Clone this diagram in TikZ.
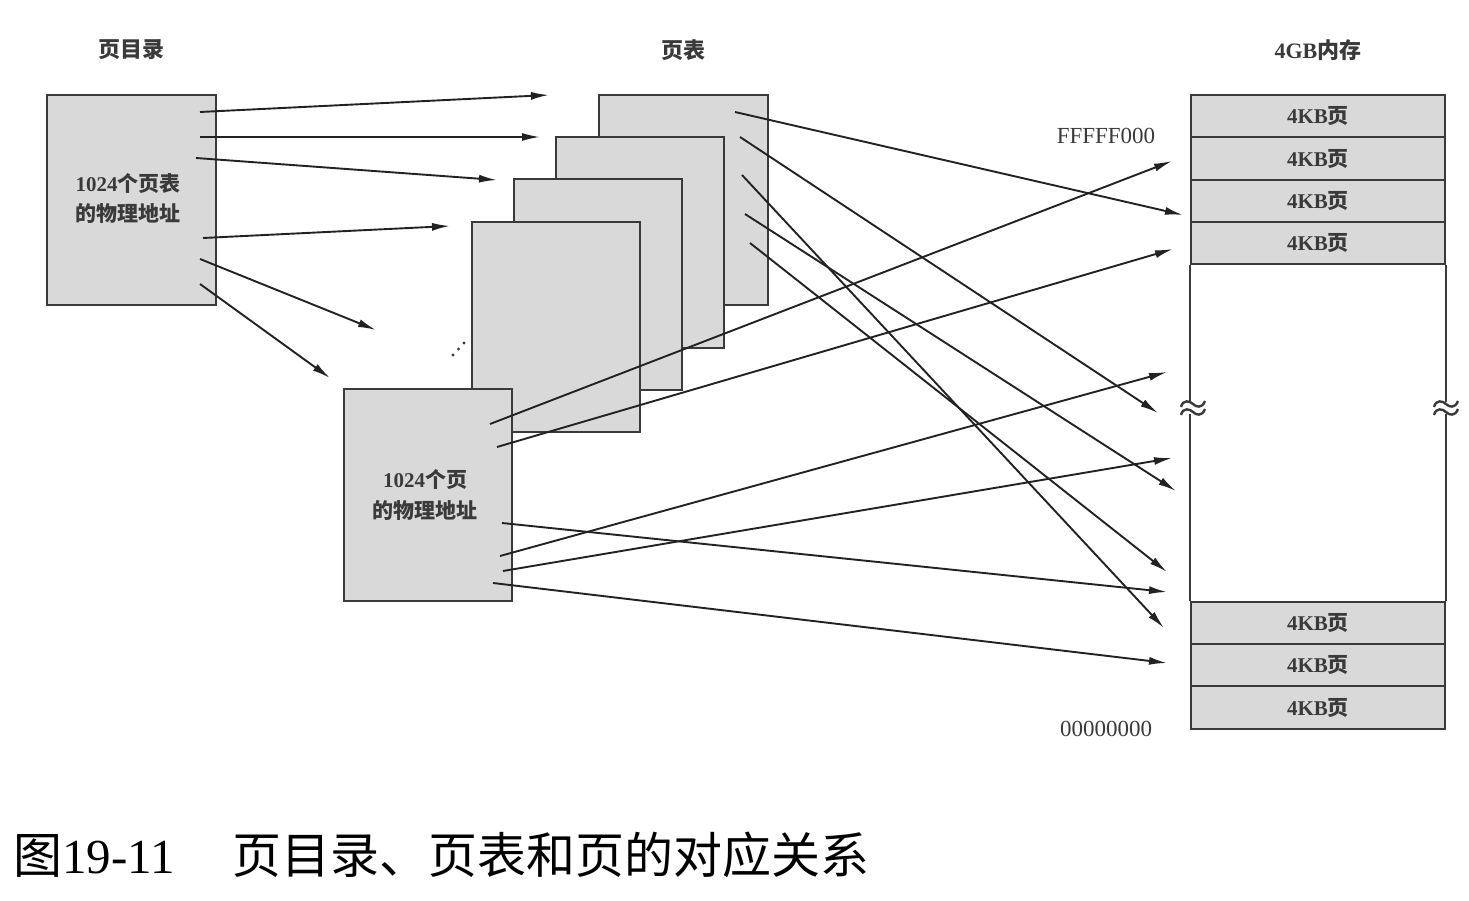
\documentclass[tikz,border=0pt]{standalone}
\usepackage{fontspec}
\setmainfont{Liberation Serif}
\newfontfamily\cjk{Noto Sans CJK SC}
\newfontfamily\cjkb{Noto Sans CJK SC}
\usetikzlibrary{arrows.meta}
\definecolor{grayfill}{HTML}{D9D9D9}
\definecolor{boxc}{HTML}{3A3A3A}
\definecolor{linec}{HTML}{222222}
\definecolor{txtc}{HTML}{3A3A3A}
\tikzset{
  box/.style={draw=boxc, fill=grayfill, line width=2.4pt, inner sep=0pt},
  lbl/.style={text=txtc, inner sep=0pt},
  conn/.style={draw=linec, line width=1.9pt, -{Latex[length=18pt,width=8pt]}},
  side/.style={draw=boxc, line width=2.4pt},
  brk/.style={draw=boxc, line width=2.4pt},
  lsz/.style={font=\fontsize{21}{25}\selectfont\bfseries},
  tsz/.style={font=\fontsize{22}{26}\selectfont\bfseries},
}
\newcommand{\brkmark}[2]{%
  \fill[white] (#1-13,#2-6) rectangle (#1+13,#2+6);
  \draw[brk] (#1-12,#2-1) .. controls (#1-10,#2-9) and (#1-3,#2-7) .. (#1,#2-4) .. controls (#1+3,#2-1) and (#1+9,#2+1) .. (#1+12,#2-7);
  \draw[brk] (#1-12,#2+7) .. controls (#1-10,#2-1) and (#1-3,#2+1) .. (#1,#2+4) .. controls (#1+3,#2+7) and (#1+9,#2+9) .. (#1+12,#2+1);
}
\begin{document}
\begin{tikzpicture}[x=1pt,y=-1pt]
\useasboundingbox (0,0) rectangle (1469,901);

% titles
\node[lbl, tsz] (t1) at (131,50) {\cjkb 页目录};
\node[lbl, tsz] (t2) at (683,50) {\cjkb 页表};
\node[lbl, tsz] (t3) at (1318,50) {4GB{\cjkb 内存}};

% page directory
\node[box, minimum width=169pt, minimum height=210pt] (pd) at (131.5,200) {};
\node[lbl, lsz] (pdt1) at (128,184) {1024{\cjkb 个页表}};
\node[lbl, lsz] (pdt2) at (128,214) {\cjkb 的物理地址};

% page tables (back to front)
\node[box, minimum width=169pt, minimum height=210pt] (pt4) at (683.5,200) {};
\node[box, minimum width=168pt, minimum height=211pt] (pt3) at (640,242.5) {};
\node[box, minimum width=168pt, minimum height=211pt] (pt2) at (598,284.5) {};
\node[box, minimum width=168pt, minimum height=210pt] (pt1) at (556,327) {};

% dots
\fill[boxc] (453,355) circle (1.7) (458.5,349) circle (1.7) (464,343) circle (1.7);

% page
\node[box, minimum width=168pt, minimum height=212pt] (pg) at (428,495) {};
\node[lbl, lsz] (pgt1) at (425,480) {1024{\cjkb 个页}};
\node[lbl, lsz] (pgt2) at (425,511) {\cjkb 的物理地址};

% memory
\node[box, minimum width=254pt, minimum height=42pt, lsz, text=txtc] (m1) at (1318,116) {4KB{\cjkb 页}};
\node[box, minimum width=254pt, minimum height=43pt, lsz, text=txtc] (m2) at (1318,158.5) {4KB{\cjkb 页}};
\node[box, minimum width=254pt, minimum height=42pt, lsz, text=txtc] (m3) at (1318,201) {4KB{\cjkb 页}};
\node[box, minimum width=254pt, minimum height=42pt, lsz, text=txtc] (m4) at (1318,243) {4KB{\cjkb 页}};
\node[box, minimum width=254pt, minimum height=42pt, lsz, text=txtc] (m5) at (1318,623) {4KB{\cjkb 页}};
\node[box, minimum width=254pt, minimum height=42pt, lsz, text=txtc] (m6) at (1318,665) {4KB{\cjkb 页}};
\node[box, minimum width=254pt, minimum height=43pt, lsz, text=txtc] (m7) at (1318,707.5) {4KB{\cjkb 页}};
\draw[side] (m4.south west) -- (m5.north west);
\draw[side] (m4.south east) -- (m5.north east);
\brkmark{1193}{408}
\brkmark{1446}{408}

\node[lbl, font=\fontsize{23}{26}\selectfont] (hi) at (1106,136) {FFFFF000};
\node[lbl, font=\fontsize{23}{26}\selectfont] (lo) at (1106,729) {00000000};

% directory -> page tables
\coordinate (d1) at (200,112); \coordinate (e1) at (549,95);
\coordinate (d2) at (200,137); \coordinate (e2) at (540,137);
\coordinate (d3) at (196,158); \coordinate (e3) at (497,180);
\coordinate (d4) at (203,238); \coordinate (e4) at (450,226);
\coordinate (d5) at (200,259); \coordinate (e5) at (376,330);
\coordinate (d6) at (200,284); \coordinate (e6) at (330,378);
\foreach \i in {1,...,6} { \draw[conn] (d\i) -- (e\i); }

% page table -> memory
\coordinate (p1) at (735,112); \coordinate (q1) at (1183,215);
\coordinate (p2) at (740,137); \coordinate (q2) at (1158,413);
\coordinate (p3) at (742,175); \coordinate (q3) at (1164,628);
\coordinate (p4) at (745,214); \coordinate (q4) at (1176,491);
\coordinate (p5) at (750,243); \coordinate (q5) at (1167,572);
\foreach \i in {1,...,5} { \draw[conn] (p\i) -- (q\i); }

% page -> memory
\coordinate (g1) at (490,424); \coordinate (h1) at (1172,161);
\coordinate (g2) at (497,447); \coordinate (h2) at (1173,249);
\coordinate (g3) at (500,556); \coordinate (h3) at (1167,372);
\coordinate (g4) at (503,571); \coordinate (h4) at (1172,458);
\coordinate (g5) at (502,523); \coordinate (h5) at (1167,592);
\coordinate (g6) at (493,583); \coordinate (h6) at (1167,663);
\foreach \i in {1,...,6} { \draw[conn] (g\i) -- (h\i); }

% caption
\node[anchor=west, inner sep=0pt, text=black] (cap) at (13,855)
  {\fontsize{49}{52}\selectfont\cjk 图{\rmfamily 19-11}\hspace{58pt}页目录、页表和页的对应关系};
\end{tikzpicture}
\end{document}
